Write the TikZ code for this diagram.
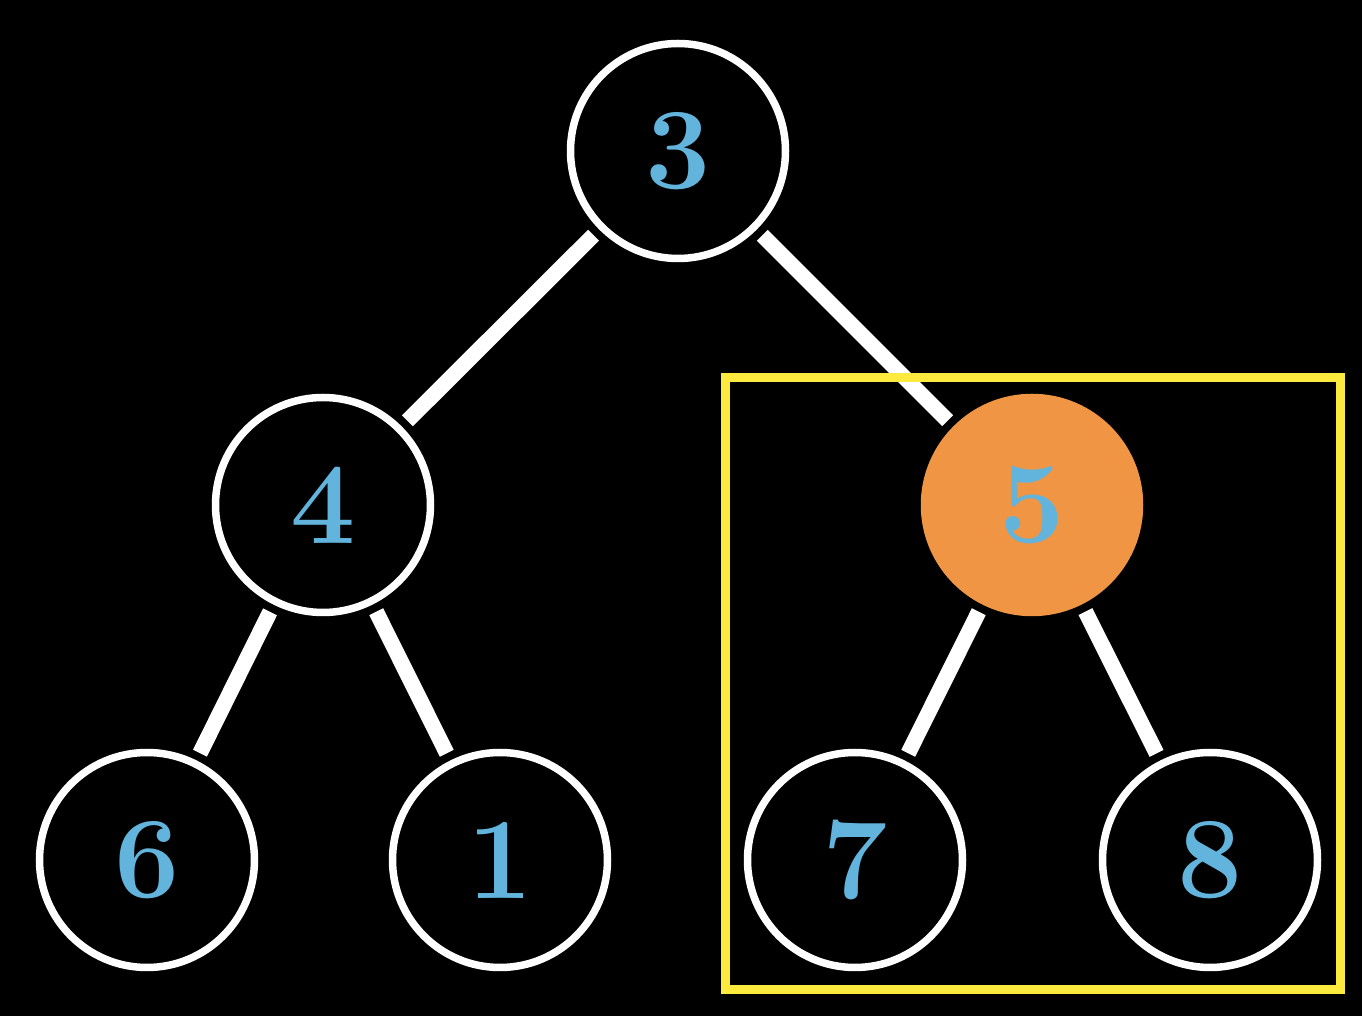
\documentclass[tikz,border=0pt]{standalone}
\usepackage{xcolor}
\usepackage{tikz}
\usetikzlibrary{positioning}

\definecolor{keyblue}{RGB}{98,180,220}
\definecolor{hlorange}{RGB}{239,149,68}
\definecolor{boxyellow}{RGB}{252,234,62}

\begin{document}
\begin{tikzpicture}[
  on grid,
  vert/.style={draw=white, circle, line width=0.075cm, fill=black,
               minimum size=2.15cm, inner sep=0pt, text=keyblue,
               font=\fontsize{33}{37}\selectfont\bfseries},
  hot/.style={vert, draw=hlorange, fill=hlorange},
  edge/.style={draw=white, line width=0.155cm, shorten <=0.08cm, shorten >=0.08cm},
  frame/.style={draw=boxyellow, line width=0.09cm}]
\fill[black] (0,0) rectangle (13.62,10.16);
\node[vert] (n3) at (6.78,8.65) {3};
\node[vert, below left=3.54cm and 3.55cm of n3] (n4) {4};
\node[hot, below right=3.54cm and 3.54cm of n3] (n5) {5};
\node[vert, below left=3.55cm and 1.76cm of n4] (n6) {6};
\node[vert, below right=3.55cm and 1.77cm of n4] (n1) {1};
\node[vert, below left=3.55cm and 1.77cm of n5] (n7) {7};
\node[vert, below right=3.55cm and 1.78cm of n5] (n8) {8};
\draw[edge] (n3) -- (n4);
\draw[edge] (n3) -- (n5);
\draw[edge] (n4) -- (n6);
\draw[edge] (n4) -- (n1);
\draw[edge] (n5) -- (n7);
\draw[edge] (n5) -- (n8);
% subtree rooted at 5
\draw[frame] (7.25,6.38) rectangle (13.40,0.26);
\end{tikzpicture}
\end{document}
